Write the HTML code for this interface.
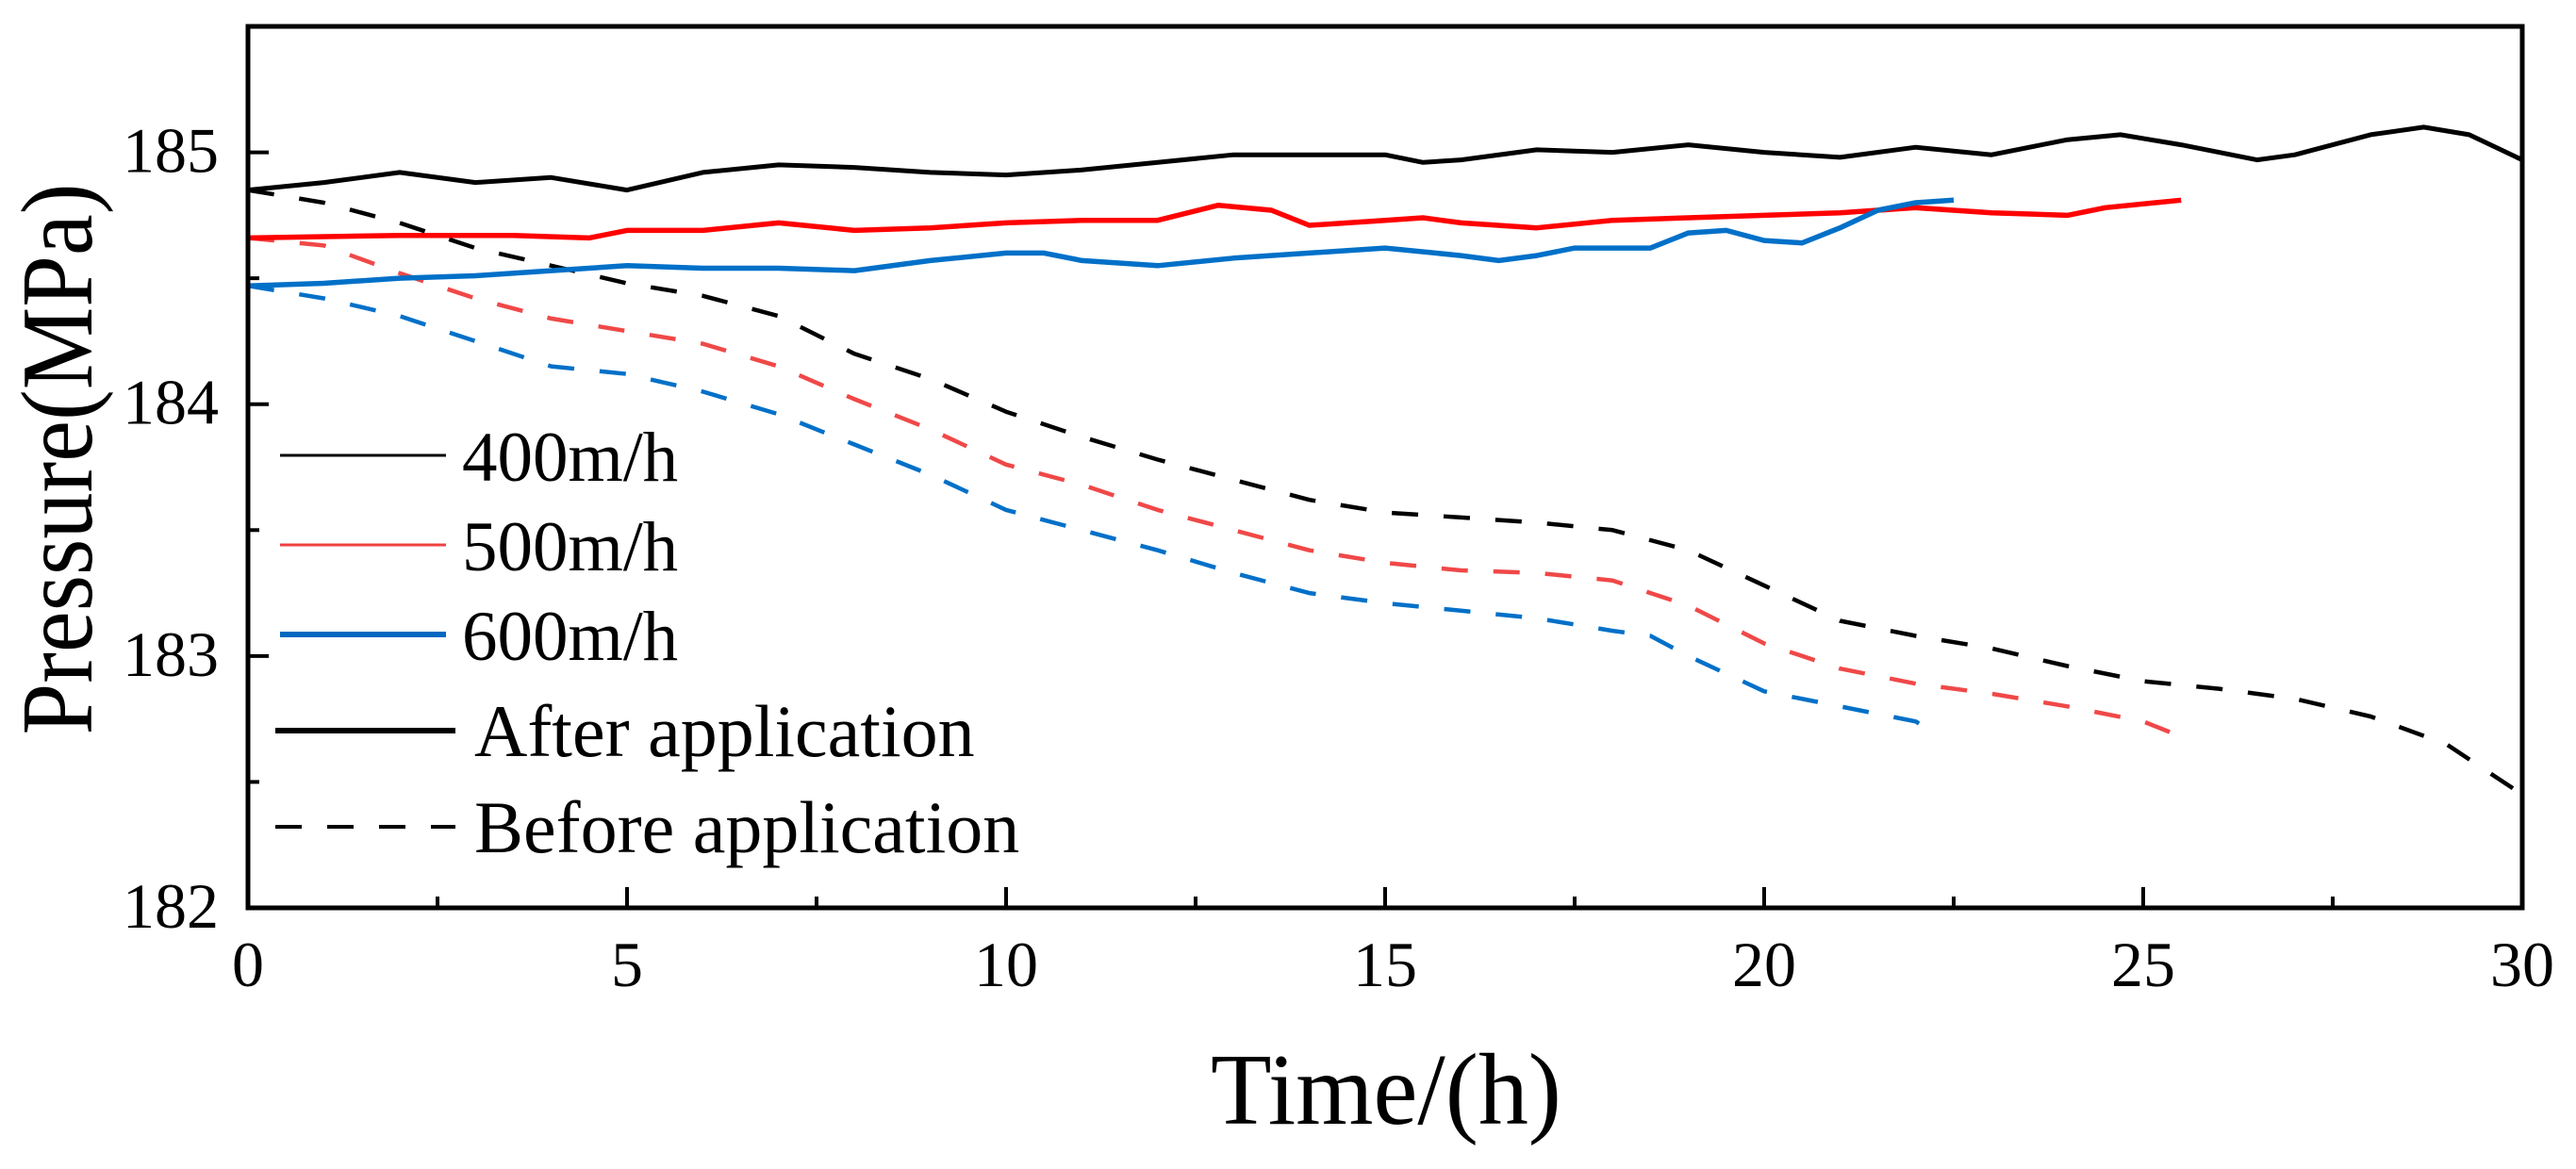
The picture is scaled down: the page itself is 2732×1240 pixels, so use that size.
<!DOCTYPE html>
<html><head><meta charset="utf-8"><style>
html,body{margin:0;padding:0;background:#fff;}
svg text{font-family:"Liberation Serif",serif;fill:#000;}
</style></head><body>
<svg id="chart" width="2732" height="1235" viewBox="0 0 2732 1235" xmlns="http://www.w3.org/2000/svg">
<g id="series"></g>
<rect x="263" y="28" width="2412" height="935" fill="none" stroke="#000" stroke-width="5"/>
<g id="ticks"></g>
<text transform="translate(97,487) rotate(-90)" text-anchor="middle" font-size="108" textLength="585" lengthAdjust="spacingAndGlyphs">Pressure(MPa)</text>
<text x="1470" y="1192" text-anchor="middle" font-size="108" textLength="372" lengthAdjust="spacingAndGlyphs">Time/(h)</text>
<g id="legend">
<line x1="297" y1="483" x2="473" y2="483" stroke="#000" stroke-width="3"/>
<text x="490" y="510" font-size="75">400m/h</text>
<line x1="297" y1="578" x2="473" y2="578" stroke="#f04040" stroke-width="3"/>
<text x="490" y="605" font-size="75">500m/h</text>
<line x1="297" y1="673" x2="473" y2="673" stroke="#0068c0" stroke-width="6"/>
<text x="490" y="700" font-size="75">600m/h</text>
<line x1="292" y1="775" x2="483" y2="775" stroke="#000" stroke-width="6"/>
<text x="503" y="802" font-size="78">After application</text>
<line x1="292" y1="877" x2="483" y2="877" stroke="#000" stroke-width="4" stroke-dasharray="28,27"/>
<text x="503" y="904" font-size="78">Before application</text>
</g>
</svg>
<script>
const xTicks = [0,5,10,15,20,25,30];
const yTicks = [182,183,184,185];
const t400 = [0,1,2,3,4,5,6,7,8,9,10,11,12,13,14,15,15.5,16,17,18,19,20,21,22,23,24,24.7,25.5,26.5,27,28,28.7,29.3,30];
const v400 = [184.85,184.88,184.92,184.88,184.9,184.85,184.92,184.95,184.94,184.92,184.91,184.93,184.96,184.99,184.99,184.99,184.96,184.97,185.01,185.0,185.03,185.0,184.98,185.02,184.99,185.05,185.07,185.03,184.97,184.99,185.07,185.1,185.07,184.97];
const t500 = [0,2,3.5,4.5,5,6,7,8,9,10,11,12,12.8,13.5,14,15,15.5,16,17,18,19,20,21,22,23,24,24.5,25.5];
const v500 = [184.66,184.67,184.67,184.66,184.69,184.69,184.72,184.69,184.7,184.72,184.73,184.73,184.79,184.77,184.71,184.73,184.74,184.72,184.7,184.73,184.74,184.75,184.76,184.78,184.76,184.75,184.78,184.81];
const t600 = [0,1,2,3,4,5,6,7,8,9,10,10.5,11,12,13,14,15,16,16.5,17,17.5,18.5,19,19.5,20,20.5,21,21.5,22,22.5];
const v600 = [184.47,184.48,184.5,184.51,184.53,184.55,184.54,184.54,184.53,184.57,184.6,184.6,184.57,184.55,184.58,184.6,184.62,184.59,184.57,184.59,184.62,184.62,184.68,184.69,184.65,184.64,184.7,184.77,184.8,184.81];
const tB400 = [0,1,2,3,4,5,6,7,8,9,10,11,12,13,14,15,16,17,18,19,20,21,22,23,24,25,26,27,28,29,30];
const vB400 = [184.85,184.8,184.72,184.62,184.55,184.48,184.43,184.35,184.2,184.1,183.97,183.87,183.78,183.7,183.62,183.57,183.55,183.53,183.5,183.42,183.28,183.14,183.08,183.03,182.96,182.9,182.87,182.83,182.76,182.65,182.45];
const tB500 = [0,1,2,3,4,5,6,7,8,9,10,11,12,13,14,15,16,17,18,19,20,21,22,23,24,25,25.5];
const vB500 = [184.66,184.63,184.52,184.42,184.34,184.29,184.24,184.15,184.02,183.9,183.76,183.68,183.58,183.5,183.42,183.37,183.34,183.33,183.3,183.2,183.05,182.95,182.89,182.85,182.8,182.74,182.68];
const tB600 = [0,1,2,3,4,5,6,7,8,9,10,11,12,13,14,15,16,17,18,18.5,19,20,21,22,22.2];
const vB600 = [184.47,184.42,184.35,184.25,184.15,184.12,184.05,183.96,183.84,183.72,183.58,183.5,183.42,183.33,183.25,183.21,183.18,183.15,183.1,183.08,183.0,182.86,182.8,182.74,182.7];

const NS='http://www.w3.org/2000/svg';
const X0=263,X1=2675,Y0=963,Y1=28,XMIN=0,XMAX=30,YMIN=182,YMAX=185.5;
function xs(v){return X0+(v-XMIN)/(XMAX-XMIN)*(X1-X0);}
function ys(v){return Y0-(v-YMIN)/(YMAX-YMIN)*(Y0-Y1);}
const ser=document.getElementById('series');
function line(ts,vs,color,w,dash,name){
  const p=document.createElementNS(NS,'polyline');
  p.setAttribute('points',ts.map((t,i)=>xs(t).toFixed(1)+','+ys(vs[i]).toFixed(1)).join(' '));
  p.setAttribute('fill','none');p.setAttribute('stroke',color);p.setAttribute('stroke-width',w);
  p.setAttribute('stroke-linejoin','round');
  if(dash)p.setAttribute('stroke-dasharray',dash);
  
  
  ser.appendChild(p);
}
line(tB400,vB400,'#000',4.5,'28,27','line-before-400');
line(tB500,vB500,'#f04848',4.5,'28,27','line-before-500');
line(tB600,vB600,'#0070c8',4.5,'28,27','line-before-600');
line(t400,v400,'#000',5,null,'line-after-400');
line(t500,v500,'#ff0000',5.5,null,'line-after-500');
line(t600,v600,'#0070c8',5.5,null,'line-after-600');

const tk=document.getElementById('ticks');
function mk(tag,attrs){const e=document.createElementNS(NS,tag);for(const k in attrs)e.setAttribute(k,attrs[k]);tk.appendChild(e);return e;}
xTicks.forEach(v=>{
  const l=mk('line',{x1:xs(v),x2:xs(v),y1:Y0,y2:Y0-22,stroke:'#000','stroke-width':4});
  
  
  const t=mk('text',{x:xs(v),y:1046,'text-anchor':'middle','font-size':68});
  t.textContent=v;
  
  
  if(v<XMAX){const m=mk('line',{x1:xs(v+2.5),x2:xs(v+2.5),y1:Y0,y2:Y0-12,stroke:'#000','stroke-width':4});
    
    }
});
yTicks.forEach(v=>{
  const l=mk('line',{x1:X0,x2:X0+22,y1:ys(v),y2:ys(v),stroke:'#000','stroke-width':4});
  
  
  const t=mk('text',{x:232,y:ys(v)+21,'text-anchor':'end','font-size':68});
  t.textContent=v;
  
  
  const m=mk('line',{x1:X0,x2:X0+12,y1:ys(v+0.5),y2:ys(v+0.5),stroke:'#000','stroke-width':4});
  
  
});
</script>
</body></html>
